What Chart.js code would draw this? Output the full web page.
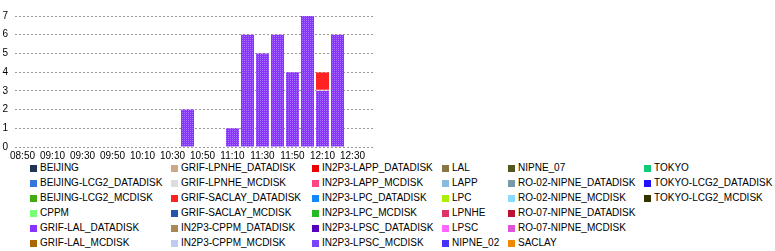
<!DOCTYPE html>
<html>
<head>
<meta charset="utf-8">
<script src="https://cdn.jsdelivr.net/npm/chart.js@4/dist/chart.umd.min.js"></script>
<style>
    body { margin: 0; background: #fff; font-family: "Liberation Sans", Arial, sans-serif; }
    #wrap { position: relative; width: 775px; height: 251px; }
    #chart { position: absolute; left: 0; top: 0; }
    .lg { position: absolute; font-size: 10px; color: #000; white-space: nowrap; line-height: 12px; }
    .lg span { display: inline-block; width: 7px; height: 7px; margin-right: 3px; vertical-align: -0.5px; }
</style>
</head>
<body>
<div id="wrap">
    <canvas id="chart" width="775" height="160"></canvas>
    <div id="legend"></div>
</div>
<script>
// time slots, 10 minutes apart
const times = ['08:50', '09:00', '09:10', '09:20', '09:30', '09:40', '09:50', '10:00', '10:10', '10:20', '10:30', '10:40',
    '10:50', '11:00', '11:10', '11:20', '11:30', '11:40', '11:50', '12:00', '12:10', '12:20', '12:30', '12:40'];

const sites = ['BEIJING', 'BEIJING-LCG2_DATADISK', 'BEIJING-LCG2_MCDISK', 'CPPM', 'GRIF-LAL_DATADISK', 'GRIF-LAL_MCDISK',
    'GRIF-LPNHE_DATADISK', 'GRIF-LPNHE_MCDISK', 'GRIF-SACLAY_DATADISK', 'GRIF-SACLAY_MCDISK', 'IN2P3-CPPM_DATADISK', 'IN2P3-CPPM_MCDISK',
    'IN2P3-LAPP_DATADISK', 'IN2P3-LAPP_MCDISK', 'IN2P3-LPC_DATADISK', 'IN2P3-LPC_MCDISK', 'IN2P3-LPSC_DATADISK', 'IN2P3-LPSC_MCDISK',
    'LAL', 'LAPP', 'LPC', 'LPNHE', 'LPSC', 'NIPNE_02',
    'NIPNE_07', 'RO-02-NIPNE_DATADISK', 'RO-02-NIPNE_MCDISK', 'RO-07-NIPNE_DATADISK', 'RO-07-NIPNE_MCDISK', 'SACLAY',
    'TOKYO', 'TOKYO-LCG2_DATADISK', 'TOKYO-LCG2_MCDISK'];

const siteColors = ['#223355', '#3377dd', '#44aa11', '#77ff77', '#8833ff', '#aa6600',
    '#ccaa88', '#dddddd', '#ff2222', '#2255aa', '#aa8855', '#bbccee',
    '#ee0000', '#ff4488', '#1188ff', '#22bb22', '#5500bb', '#7744ff',
    '#887744', '#88bbdd', '#aaee00', '#dd3366', '#ff66ff', '#4433ff',
    '#555522', '#7799aa', '#88ddff', '#bb1133', '#dd55dd', '#ee8800',
    '#11cc77', '#2211ff', '#333300'];

// only two sites have jobs in this window
const grifLalData = [0, 0, 0, 0, 0, 0, 0, 0, 0, 0, 0, 2, 0, 0, 1, 6, 5, 6, 4, 7, 3, 6, 0, 0];
const grifSaclayData = [0, 0, 0, 0, 0, 0, 0, 0, 0, 0, 0, 0, 0, 0, 0, 0, 0, 0, 0, 0, 1, 0, 0, 0];

const yTicks = [0, 1, 2, 3, 4, 5, 6, 7];

const seriesBySite = {
    'GRIF-LAL_DATADISK': grifLalData,
    'GRIF-SACLAY_DATADISK': grifSaclayData
};

function dotPattern(base) {
    const c = document.createElement('canvas');
    c.width = 2; c.height = 2;
    const g = c.getContext('2d');
    g.fillStyle = base;
    g.fillRect(0, 0, 2, 2);
    g.fillStyle = 'rgba(255,255,255,0.3)';
    g.fillRect(0, 0, 1, 1);
    return g.createPattern(c, 'repeat');
}

const datasets = sites.map((name, i) => ({
    label: name,
    data: seriesBySite[name] ? seriesBySite[name].map(v => v || null) : [],
    backgroundColor: name === 'GRIF-LAL_DATADISK' ? dotPattern(siteColors[i]) : siteColors[i],
    swatch: siteColors[i],
    borderColor: '#ffffff',
    borderWidth: { top: 0, left: 0, right: 0, bottom: name === 'GRIF-SACLAY_DATADISK' ? 1 : 0 },
    borderSkipped: false,
    barPercentage: 0.87,
    categoryPercentage: 1.0
}));

const ctx = document.getElementById('chart').getContext('2d');
const chart = new Chart(ctx, {
    type: 'bar',
    data: { labels: times, datasets: datasets },
    options: {
        responsive: false,
        animation: false,
        layout: { padding: { top: 16, right: 400, left: 0, bottom: 0 } },
        plugins: { legend: { display: false }, tooltip: { enabled: false } },
        scales: {
            x: {
                stacked: true,
                grid: { display: false, drawTicks: false },
                border: { display: false },
                ticks: {
                    autoSkip: false,
                    maxRotation: 0,
                    padding: 3,
                    color: '#000',
                    font: { family: 'Liberation Sans', size: 10 },
                    callback: function (val, idx) { return idx % 2 === 0 ? times[idx] : ''; }
                },
                afterFit: function (scale) { scale.height = 13; }
            },
            y: {
                stacked: true,
                min: 0,
                max: yTicks[yTicks.length - 1],
                afterBuildTicks: function (scale) { scale.ticks = yTicks.map(v => ({ value: v })); },
                grid: { color: '#999999', drawTicks: false, lineWidth: 1 },
                border: { display: false, dash: [2, 2] },
                ticks: {
                    padding: 7,
                    color: '#000',
                    font: { family: 'Liberation Sans', size: 10 }
                },
                afterFit: function (scale) { scale.width = 15; }
            }
        }
    }
});

// legend laid out column by column, 6 rows each
const colX = [30, 171, 312, 442, 508, 644];
const rowY = [168, 183, 198, 213, 228, 243];
const legendEl = document.getElementById('legend');
chart.data.datasets.forEach((ds, i) => {
    const col = Math.floor(i / 6), row = i % 6;
    const item = document.createElement('div');
    item.className = 'lg';
    item.style.left = colX[col] + 'px';
    item.style.top = (rowY[row] - 6) + 'px';
    item.innerHTML = `<span style="background:${ds.swatch}"></span>${ds.label}`;
    legendEl.appendChild(item);
});
</script>
</body>
</html>
